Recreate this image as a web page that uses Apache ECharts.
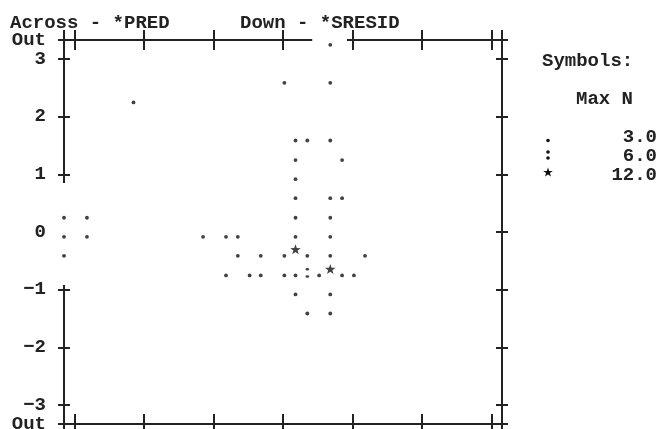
<!DOCTYPE html>
<html>
<head>
<meta charset="utf-8">
<script src="https://cdn.jsdelivr.net/npm/echarts@6/dist/echarts.min.js"></script>
<style>
html,body{margin:0;padding:0;background:#fff;}
#chart{width:661px;height:429px;}
</style>
</head>
<body>
<div id="chart"></div>
<script>
// ---- data ----
const xOut = 3.15;               // "Out" edge of *PRED
const yOut = 3.33;               // "Out" edge of *SRESID
const xTickValues = [-3.15, -3, -2, -1, 0, 1, 2, 3, 3.15];
const yTickValues = [3.33, 3, 2, 1, 0, -1, -2, -3, -3.33];
const yTickLabels = ['Out', '3', '2', '1', '0', '\u22121', '\u22122', '\u22123', 'Out'];
const yLeftTickValues = [3.33, 3, 2, 1, -1, -2, -3, -3.33];
const yRightTickValues = [3.33, 3, 2, 1, 0, -1, -2, -3, -3.33];

// points with Max N 3.0 (".")
const dotPoints = [
  [0.68, 3.33],
  [0.02, 2.67], [0.68, 2.67],
  [-2.15, 2.33],
  [0.18, 1.67], [0.35, 1.67], [0.68, 1.67],
  [0.18, 1.33], [0.85, 1.33],
  [0.18, 1.00],
  [0.18, 0.67], [0.68, 0.67], [0.85, 0.67],
  [-3.15, 0.33], [-2.82, 0.33], [0.18, 0.33], [0.68, 0.33],
  [-3.15, 0], [-2.82, 0], [-1.15, 0], [-0.82, 0], [-0.65, 0], [0.18, 0], [0.68, 0],
  [-3.15, -0.33], [-0.65, -0.33], [-0.32, -0.33], [0.02, -0.33], [0.35, -0.33], [0.68, -0.33], [1.18, -0.33],
  [-0.82, -0.67], [-0.48, -0.67], [-0.32, -0.67], [0.02, -0.67], [0.18, -0.67], [0.52, -0.67], [0.85, -0.67], [1.02, -0.67],
  [0.18, -1.00], [0.68, -1.00],
  [0.35, -1.33], [0.68, -1.33]
];
// points with Max N 6.0 (":")
const colonPoints = [[0.35, -0.67]];
// points with Max N 12.0 ("*")
const starPoints = [[0.18, -0.33], [0.68, -0.67]];

const legendMaxN = ['3.0', '6.0', '12.0'];

// frame pieces (data units) – the printout leaves gaps where points sit on the border
const frameSegments = [
  [[-3.15, 3.33], [0.42, 3.33]],
  [[0.92, 3.33], [3.15, 3.33]],
  [[-3.15, 3.33], [-3.15, 0.85]],
  [[-3.15, -0.92], [-3.15, -3.33]]
];

// ---- styling ----
const INK = '#222222';
const DOT = '#111111';
const FONT = '"Liberation Mono", "DejaVu Sans Mono", monospace';
const STAR_PATH = 'M0,-100L23.5,-32.4L95.1,-30.9L38,12.4L58.8,80.9L0,40L-58.8,80.9L-38,12.4L-95.1,-30.9L-23.5,-32.4Z';
const COLON_PATH = 'M0,1a1,1 0 1,0 2,0a1,1 0 1,0 -2,0ZM0,7a1,1 0 1,0 2,0a1,1 0 1,0 -2,0Z';

function starPolygon(cx, cy, r) {
  const pts = [];
  for (let i = 0; i < 10; i++) {
    const a = -Math.PI / 2 + i * Math.PI / 5;
    const rr = (i % 2 === 0) ? r : r * 0.4;
    pts.push([cx + rr * Math.cos(a), cy + rr * Math.sin(a)]);
  }
  return pts;
}

function xAxisDef(position, inside, showLine) {
  return {
    type: 'value', min: -xOut, max: xOut, position: position,
    axisLine: { show: showLine, onZero: false, lineStyle: { color: INK, width: 2 } },
    axisTick: { show: true, inside: inside, length: 10, customValues: xTickValues, lineStyle: { color: INK, width: 2 } },
    axisLabel: { show: false },
    splitLine: { show: false }
  };
}
function yAxisDef(position, inside, showLine, ticks, withLabels) {
  return {
    type: 'value', min: -yOut, max: yOut, position: position,
    axisLine: { show: showLine, onZero: false, lineStyle: { color: INK, width: 2 } },
    axisTick: { show: true, inside: inside, length: 6, customValues: ticks, lineStyle: { color: INK, width: 2 } },
    axisLabel: withLabels ? {
      show: true, customValues: yTickValues, margin: 18,
      color: INK, fontFamily: FONT, fontSize: 19, fontWeight: 'bold',
      formatter: function (v) {
        let best = 0;
        for (let i = 0; i < yTickValues.length; i++) {
          if (Math.abs(yTickValues[i] - v) < Math.abs(yTickValues[best] - v)) best = i;
        }
        return yTickLabels[best];
      }
    } : { show: false },
    splitLine: { show: false }
  };
}

const chart = echarts.init(document.getElementById('chart'), null, { renderer: 'canvas' });
const textStyleG = { font: 'bold 19px ' + FONT, fill: INK, verticalAlign: 'middle' };

chart.setOption({
  animation: false,
  backgroundColor: '#ffffff',
  grid: { left: 64, top: 40, width: 438, height: 384, containLabel: false, outerBoundsMode: 'none' },
  xAxis: [
    xAxisDef('top', true, false),
    xAxisDef('top', false, false),
    xAxisDef('bottom', true, true),
    xAxisDef('bottom', false, false)
  ],
  yAxis: [
    yAxisDef('left', true, false, yLeftTickValues, true),
    yAxisDef('left', false, false, yLeftTickValues, false),
    yAxisDef('right', true, true, yRightTickValues, false),
    yAxisDef('right', false, false, yRightTickValues, false)
  ],
  series: [
    {
      name: legendMaxN[0], type: 'scatter', xAxisIndex: 0, yAxisIndex: 0, clip: false,
      data: dotPoints, symbol: 'circle', symbolSize: 3.8, symbolOffset: [0, 4.8],
      itemStyle: { color: DOT }, silent: true,
      markLine: {
        silent: true, symbol: ['none', 'none'], label: { show: false },
        lineStyle: { color: INK, width: 2, type: 'solid' },
        emphasis: { disabled: true },
        data: frameSegments.map(function (s) { return [{ coord: s[0] }, { coord: s[1] }]; })
      }
    },
    {
      name: legendMaxN[1], type: 'scatter', xAxisIndex: 0, yAxisIndex: 0, clip: false,
      data: colonPoints, symbol: 'path://' + COLON_PATH, symbolSize: [3.8, 9.8], symbolKeepAspect: false,
      symbolOffset: [0, 2.2], itemStyle: { color: DOT }, silent: true
    },
    {
      name: legendMaxN[2], type: 'scatter', xAxisIndex: 0, yAxisIndex: 0, clip: false,
      data: starPoints, symbol: 'path://' + STAR_PATH, symbolSize: 10.5, symbolKeepAspect: true,
      symbolOffset: [0, -1.7], itemStyle: { color: DOT }, silent: true
    }
  ],
  graphic: [
    { type: 'text', x: 10, y: 23, style: Object.assign({ text: 'Across - *PRED' }, textStyleG), silent: true },
    { type: 'text', x: 240, y: 23, style: Object.assign({ text: 'Down - *SRESID' }, textStyleG), silent: true },
    { type: 'text', x: 542, y: 61, style: Object.assign({ text: 'Symbols:' }, textStyleG), silent: true },
    { type: 'text', x: 576, y: 99, style: Object.assign({ text: 'Max N' }, textStyleG), silent: true },
    { type: 'text', x: 657, y: 137, style: Object.assign({ text: legendMaxN[0], align: 'right' }, textStyleG), silent: true },
    { type: 'text', x: 657, y: 156, style: Object.assign({ text: legendMaxN[1], align: 'right' }, textStyleG), silent: true },
    { type: 'text', x: 657, y: 175, style: Object.assign({ text: legendMaxN[2], align: 'right' }, textStyleG), silent: true },
    { type: 'circle', shape: { cx: 548, cy: 140.5, r: 1.8 }, style: { fill: DOT }, silent: true },
    { type: 'circle', shape: { cx: 548, cy: 152, r: 1.8 }, style: { fill: DOT }, silent: true },
    { type: 'circle', shape: { cx: 548, cy: 158, r: 1.8 }, style: { fill: DOT }, silent: true },
    { type: 'polygon', shape: { points: starPolygon(548, 172.5, 5) }, style: { fill: DOT }, silent: true }
  ]
});
</script>
</body>
</html>
